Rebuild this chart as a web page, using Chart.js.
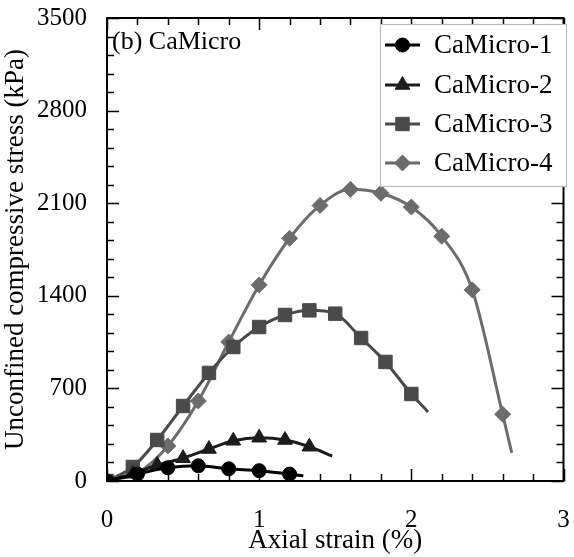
<!DOCTYPE html>
<html>
<head>
<meta charset="utf-8">
<script src="https://cdn.jsdelivr.net/npm/chart.js@4/dist/chart.umd.min.js"></script>
<style>
html,body{margin:0;padding:0;background:#fff;}
#wrap{width:574px;height:557px;}
</style>
</head>
<body>
<div id="wrap"><canvas id="c" width="574" height="557"></canvas></div>
<script>
// ---- data ----
const seriesNames = ["CaMicro-1", "CaMicro-2", "CaMicro-3", "CaMicro-4"];
const s1X = [0, 0.2, 0.4, 0.6, 0.8, 1.0, 1.2, 1.29];
const s1Y = [0, 53, 100, 115, 92, 78, 52, 38];
const s2X = [0, 0.17, 0.33, 0.5, 0.67, 0.83, 1.0, 1.17, 1.33, 1.48];
const s2Y = [0, 55, 121, 172, 242, 304, 327, 310, 259, 189];
const s3X = [0, 0.17, 0.33, 0.5, 0.67, 0.83, 1.0, 1.17, 1.33, 1.5, 1.67, 1.83, 2.0, 2.11];
const s3Y = [0, 106, 310, 567, 817, 1013, 1164, 1255, 1290, 1265, 1081, 900, 658, 522];
const s4X = [0, 0.2, 0.4, 0.6, 0.8, 1.0, 1.2, 1.4, 1.6, 1.8, 2.0, 2.2, 2.4, 2.6, 2.66];
const s4Y = [0, 60, 265, 605, 1051, 1482, 1835, 2083, 2205, 2175, 2071, 1850, 1445, 505, 212];
const xTicks = [0, 1, 2, 3];
const yTicks = [0, 700, 1400, 2100, 2800, 3500];
const panelLabel = "(b) CaMicro";
const xTitle = "Axial strain (%)";
const yTitle = "Unconfined compressive stress (kPa)";

const FONT = "'Liberation Serif','Times New Roman',serif";
const styles = [
  {color: "#000000", point: "circle", r: 7},
  {color: "#1c1c1c", point: "triangle", r: 8.5},
  {color: "#4a4a4a", point: "rect", r: 9.5},
  {color: "#6c6c6c", point: "rectRot", r: 8}
];
const xs = [s1X, s2X, s3X, s4X];
const ys = [s1Y, s2Y, s3Y, s4Y];

const datasets = seriesNames.map((name, i) => {
  const pts = xs[i].map((x, k) => ({x: x, y: ys[i][k]}));
  const st = styles[i];
  return {
    label: name,
    data: pts,
    showLine: true,
    borderColor: st.color,
    backgroundColor: st.color,
    borderWidth: 3,
    pointStyle: st.point,
    pointRadius: pts.map((p, k) => k === pts.length - 1 ? 0 : st.r),
    pointHoverRadius: pts.map((p, k) => k === pts.length - 1 ? 0 : st.r),
    pointBorderWidth: 1,
    pointBorderColor: st.color,
    pointBackgroundColor: st.color,
    cubicInterpolationMode: 'monotone'
  };
});

const framePlugin = {
  id: 'frame',
  afterDraw(chart) {
    const ctx = chart.ctx;
    const a = chart.chartArea;
    const xs_ = chart.scales.x, ys_ = chart.scales.y;
    ctx.save();
    ctx.strokeStyle = "#000";
    ctx.lineWidth = 1.5;
    for (let v = 0; v <= 3.0001; v += 0.2) {
      const px = Math.round(xs_.getPixelForValue(v)) + 0.5;
      const major = Math.abs(v - Math.round(v)) < 1e-6;
      const L = major ? 12 : 7;
      ctx.beginPath();
      ctx.moveTo(px, a.bottom); ctx.lineTo(px, a.bottom - L);
      ctx.moveTo(px, a.top); ctx.lineTo(px, a.top + L);
      ctx.stroke();
    }
    for (let v = 0; v <= 3500.01; v += 140) {
      const py = Math.round(ys_.getPixelForValue(v)) + 0.5;
      const major = Math.abs(v / 700 - Math.round(v / 700)) < 1e-6;
      const L = major ? 12 : 7;
      ctx.beginPath();
      ctx.moveTo(a.left, py); ctx.lineTo(a.left + L, py);
      ctx.moveTo(a.right, py); ctx.lineTo(a.right - L, py);
      ctx.stroke();
    }
    ctx.lineWidth = 2;
    ctx.strokeRect(a.left, a.top, a.right - a.left, a.bottom - a.top);

    ctx.fillStyle = "#000";
    ctx.font = "26px " + FONT;
    ctx.textAlign = "left";
    ctx.textBaseline = "middle";
    ctx.fillText(panelLabel, a.left + 5, 42);

    const bx = 380, by = 24, bw = 186, bh = 162;
    ctx.fillStyle = "#fff";
    ctx.fillRect(bx, by, bw, bh);
    ctx.strokeStyle = "#bdbdbd";
    ctx.lineWidth = 1.2;
    ctx.strokeRect(bx + 0.5, by + 0.5, bw, bh);
    const rowsY = [45, 85, 124, 163];
    chart.data.datasets.forEach((ds, i) => {
      const yy = rowsY[i];
      const st = styles[i];
      ctx.strokeStyle = st.color;
      ctx.lineWidth = 3;
      ctx.beginPath();
      ctx.moveTo(385, yy); ctx.lineTo(420, yy);
      ctx.stroke();
      ctx.fillStyle = st.color;
      ctx.strokeStyle = st.color;
      ctx.lineWidth = 1;
      Chart.helpers.drawPoint(ctx, {pointStyle: st.point, radius: st.r, rotation: 0, borderWidth: 1}, 402.5, yy);
      ctx.fillStyle = "#000";
      ctx.font = "27px " + FONT;
      ctx.textAlign = "left";
      ctx.textBaseline = "middle";
      ctx.fillText(ds.label, 434, yy + 1);
    });
    ctx.restore();
  }
};

new Chart(document.getElementById('c'), {
  type: 'scatter',
  data: {datasets: datasets},
  options: {
    responsive: false,
    animation: false,
    events: [],
    layout: {padding: {top: 18, right: 1, left: 0, bottom: 0}},
    plugins: {legend: {display: false}, tooltip: {enabled: false}},
    scales: {
      x: {
        type: 'linear', min: 0, max: 3,
        afterFit(s) { s.height = 76; s.paddingLeft = 0; s.paddingRight = 0; },
        afterBuildTicks(s) { s.ticks = xTicks.map(v => ({value: v})); },
        grid: {display: false, drawTicks: false},
        border: {display: false},
        ticks: {color: "#000", font: {family: FONT, size: 25}, padding: 24, maxRotation: 0, callback: v => String(v)},
        title: {display: true, text: xTitle, color: "#000", font: {family: FONT, size: 27}, padding: {top: 0, bottom: 0}}
      },
      y: {
        type: 'linear', min: 0, max: 3500,
        afterFit(s) { s.width = 107; s.paddingTop = 0; s.paddingBottom = 0; },
        afterBuildTicks(s) { s.ticks = yTicks.map(v => ({value: v})); },
        grid: {display: false, drawTicks: false},
        border: {display: false},
        ticks: {color: "#000", font: {family: FONT, size: 25}, padding: 20, callback: v => String(v)},
        title: {display: true, text: yTitle, color: "#000", font: {family: FONT, size: 27}, padding: {top: 0, bottom: 4}}
      }
    }
  },
  plugins: [framePlugin]
});
</script>
</body>
</html>
